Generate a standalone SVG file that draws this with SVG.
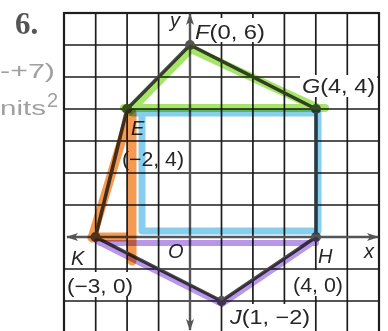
<svg xmlns="http://www.w3.org/2000/svg" width="388" height="331" viewBox="0 0 388 331">
<defs>
<style>
.grid{fill:none;stroke:#1e1e1e;stroke-width:1.7}
.border{fill:none;stroke:#1e1e1e;stroke-width:2.2}
.axis{fill:none;stroke:#555;stroke-width:2.4}
.edge{fill:none;stroke:#484848;stroke-width:3.6;stroke-linecap:round}
.dot{fill:#555}
.lbl{font-family:"Liberation Sans",Arial,sans-serif;font-size:20px;fill:#262626}
.it{font-style:italic}
.bg{fill:#fff}
.hand{font-family:"Liberation Sans",Arial,sans-serif;font-size:20px;fill:#a0a0a0}
.num{font-family:"Liberation Serif","Times New Roman",serif;font-size:31px;font-weight:bold;fill:#555}
.hl{fill:none;stroke-linecap:round;stroke-linejoin:round;mix-blend-mode:multiply}
.green{stroke:#a6e46a;stroke-width:8}
.blue{stroke:#86cdee;stroke-width:7}
.orange{stroke:#f59a52;stroke-width:9}
.purple{stroke:#b896e8;stroke-width:6}
</style>
<marker id="arr" viewBox="0 0 12 8" refX="11" refY="4" markerWidth="12" markerHeight="8" markerUnits="userSpaceOnUse" orient="auto-start-reverse">
<path d="M0,0 L12,4 L0,8 L3,4 Z" fill="#555"/>
</marker>
</defs>
<rect width="388" height="331" fill="#fff"/>
<text class="num" x="15" y="34">6.</text>
<text class="hand" x="0" y="78" textLength="55" lengthAdjust="spacingAndGlyphs">-+7)</text>
<text class="hand" x="0" y="115" textLength="46" lengthAdjust="spacingAndGlyphs">nits</text>
<text class="hand" x="47" y="107" font-size="16">2</text>
<g id="grid">
<path class="grid" d="M95.7,13V333M127.1,13V333M158.6,13V333M221.5,13V333M252.9,13V333M284.4,13V333M315.8,13V333M347.3,13V333M64,45H379M64,77H379M64,109H379M64,141H379M64,173H379M64,205H379M64,269H379M64,301H379"/>
<rect class="border" x="64" y="13" width="315" height="330"/>
</g>
<g id="axes">
<line class="axis" x1="67" y1="237" x2="378" y2="237" marker-start="url(#arr)" marker-end="url(#arr)"/>
<line class="axis" x1="190" y1="14" x2="190" y2="330" marker-start="url(#arr)" marker-end="url(#arr)"/>
</g>
<g id="connectors">
<path class="edge" d="M127,109 L190,45 L316,109 L316,237 L221.5,301 L95.5,237 Z"/>
</g>
<g id="E">
<circle class="dot" cx="127" cy="109" r="5"/>
<text class="lbl it" x="131" y="135">E</text>
<text class="lbl" x="122" y="166" textLength="62" lengthAdjust="spacingAndGlyphs">(−2, 4)</text>
</g>
<g id="F">
<rect class="bg" x="195" y="18" width="72" height="24"/>
<circle class="dot" cx="190" cy="45" r="5"/>
<text class="lbl" x="195" y="39" textLength="70" lengthAdjust="spacingAndGlyphs"><tspan class="it">F</tspan>(0, 6)</text>
</g>
<g id="G">
<rect class="bg" x="300" y="75" width="77" height="22"/>
<circle class="dot" cx="316" cy="109" r="5"/>
<text class="lbl" x="302" y="93" textLength="73" lengthAdjust="spacingAndGlyphs"><tspan class="it">G</tspan>(4, 4)</text>
</g>
<g id="H">
<rect class="bg" x="318" y="241" width="22" height="25"/>
<rect class="bg" x="291" y="270" width="54" height="26"/>
<circle class="dot" cx="316" cy="237" r="5"/>
<text class="lbl it" x="318" y="263">H</text>
<text class="lbl" x="293" y="292" textLength="50" lengthAdjust="spacingAndGlyphs">(4, 0)</text>
</g>
<g id="J">
<rect class="bg" x="228" y="304" width="84" height="27"/>
<circle class="dot" cx="221.5" cy="301" r="5"/>
<text class="lbl" x="230" y="324" textLength="80" lengthAdjust="spacingAndGlyphs"><tspan class="it">J</tspan>(1, −2)</text>
</g>
<g id="K">
<rect class="bg" x="65" y="272" width="70" height="25"/>
<circle class="dot" cx="95.5" cy="237" r="5"/>
<text class="lbl it" x="71" y="265">K</text>
<text class="lbl" x="67" y="293" textLength="66" lengthAdjust="spacingAndGlyphs">(−3, 0)</text>
</g>
<g id="O">
<text class="lbl it" x="168" y="258">O</text>
</g>
<g id="axis-labels">
<text class="lbl it" x="364" y="258">x</text>
<text class="lbl it" x="170" y="27">y</text>
</g>
<g id="highlights">
<path class="hl green" d="M129,112 L191,49 L318,108 M124,108 L325,108"/>
<path class="hl blue" d="M133,113 L318,113 L318,231 L142,231 L142,113"/>
<path class="hl orange" d="M130,113 L92,238 M132,113 L132,261 M92,237 L132,237"/>
<path class="hl purple" d="M97,241 L222,304 L316,240 M100,243 L316,243"/>
</g>
</svg>
